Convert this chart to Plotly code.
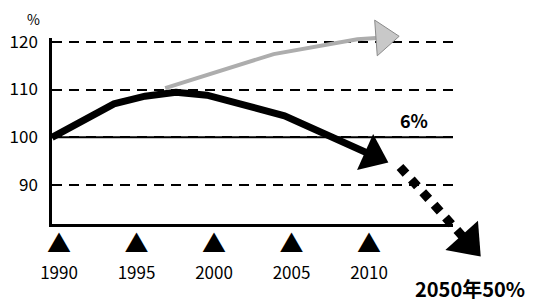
import plotly.graph_objects as go

# ---------------- data ----------------
year_ticks = [1990, 1995, 2000, 2005, 2010]
year_labels = ["1990", "1995", "2000", "2005", "2010"]
pct_ticks = [90, 100, 110, 120]
pct_labels = ["90", "100", "110", "120"]

actual_years = [1990, 1994, 1996, 1998, 2000, 2005, 2010.7]
actual_vals = [100, 107, 108.6, 109.4, 108.8, 104.5, 96.2]

bau_years = [1997.3, 2004.3, 2009.7, 2011.4]
bau_vals = [110.3, 117.4, 120.5, 120.9]

target_years = [2012.45, 2016.84]
target_vals = [93.8, 78.0]

# ---------------- layout constants (pixels, page coordinates) ----------------
PAGE_OFF = 8                    # default body margin of the html page
W, H = 550, 302
X0_PX, X1_PX = 52, 453          # plot frame left / right
YB_PX, YT_PX = 224, 38          # plot frame bottom / top
PX_PER_YEAR = 15.5
PX_PER_UNIT = 4.78
Y120_PX = 41.7
FONT = "Noto Sans CJK JP"


def fx(px):
    """page x pixel -> figure x pixel"""
    return px - PAGE_OFF


def fy(py):
    return py - PAGE_OFF


def px_to_year(px):
    return 1990 + (px - X0_PX) / PX_PER_YEAR


def py_to_val(py):
    return 120 - (py - Y120_PX) / PX_PER_UNIT


fig = go.Figure()

# BAU (grey) projection
fig.add_trace(go.Scatter(
    x=bau_years, y=bau_vals, xaxis="x2", yaxis="y2",
    mode="lines+markers", cliponaxis=False,
    line=dict(color="#adadad", width=4),
    marker=dict(symbol="triangle-up", angleref="previous", opacity=1,
                size=[0] * (len(bau_years) - 1) + [31],
                color="#c8c8c8", line=dict(color="#8a8a8a", width=1)),
    hoverinfo="skip", showlegend=False,
))

# actual emissions (black)
fig.add_trace(go.Scatter(
    x=actual_years, y=actual_vals, xaxis="x2", yaxis="y2",
    mode="lines+markers", cliponaxis=False,
    line=dict(color="#000000", width=7),
    marker=dict(symbol="triangle-up", angleref="previous", opacity=1,
                size=[0] * (len(actual_years) - 1) + [34],
                color="#000000", line=dict(width=0)),
    hoverinfo="skip", showlegend=False,
))

# 2050 target (dotted)
fig.add_trace(go.Scatter(
    x=target_years, y=target_vals, xaxis="x2", yaxis="y2",
    mode="lines+markers", cliponaxis=False,
    line=dict(color="#000000", width=9, dash="9px,8px"),
    marker=dict(symbol="triangle-up", angleref="previous", opacity=1,
                size=[0] * (len(target_years) - 1) + [38],
                color="#000000", line=dict(width=0)),
    hoverinfo="skip", showlegend=False,
))

tick_text = [
    f"<span style='font-size:24px'>▲</span><br><span style='font-size:17px'>{t}</span>"
    for t in year_labels
]

ann_common = dict(xref="paper", yref="paper", showarrow=False,
                  xanchor="center", yanchor="middle")

fig.update_layout(
    template="none",
    width=W, height=H,
    margin=dict(l=0, r=0, t=0, b=0, pad=0),
    paper_bgcolor="white", plot_bgcolor="rgba(0,0,0,0)",
    font=dict(family=FONT, color="black", size=17),
    xaxis=dict(
        domain=[fx(X0_PX) / W, fx(X1_PX) / W],
        range=[px_to_year(X0_PX), px_to_year(X1_PX)],
        tickvals=year_ticks, ticktext=tick_text,
        tickfont=dict(size=21, family=FONT, color="black"),
        ticks="", ticklabelstandoff=0, ticklabelshift=7,
        showline=True, linecolor="black", linewidth=2.5,
        showgrid=False, zeroline=False, anchor="y", automargin=False,
    ),
    yaxis=dict(
        domain=[(H - fy(YB_PX)) / H, (H - fy(YT_PX)) / H],
        range=[py_to_val(YB_PX), py_to_val(YT_PX)],
        tickvals=pct_ticks, ticktext=pct_labels,
        tickfont=dict(size=17, family=FONT, color="black"),
        ticks="", ticklabelstandoff=8,
        showline=True, linecolor="black", linewidth=2.5,
        showgrid=True, gridcolor="black", gridwidth=2, griddash="10px,7px",
        zeroline=False, anchor="x", automargin=False,
    ),
    xaxis2=dict(
        domain=[0, 1], range=[px_to_year(PAGE_OFF), px_to_year(PAGE_OFF + W)],
        visible=False, showgrid=False, zeroline=False, anchor="y2",
        automargin=False,
    ),
    yaxis2=dict(
        domain=[0, 1], range=[py_to_val(PAGE_OFF + H), py_to_val(PAGE_OFF)],
        visible=False, showgrid=False, zeroline=False, anchor="x2",
        automargin=False,
    ),
    shapes=[dict(
        type="line", xref="x", yref="y",
        x0=px_to_year(X0_PX), x1=px_to_year(X1_PX), y0=100, y1=100,
        line=dict(color="black", width=2), layer="below",
    )],
    annotations=[
        dict(text="%", x=fx(33) / W, y=1 - fy(19) / H,
             font=dict(size=14, family=FONT), **ann_common),
        dict(text="<b>6%</b>", x=fx(414) / W, y=1 - fy(120) / H,
             font=dict(size=18, family=FONT), **ann_common),
        dict(text="<b>2050年50%</b>", x=fx(470) / W, y=1 - fy(288) / H,
             font=dict(size=20, family=FONT), **ann_common),
    ],
)

fig.write_html("out.html")
